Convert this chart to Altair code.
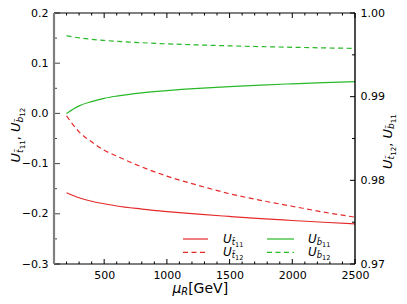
import altair as alt
import pandas as pd

# ---------------- data ----------------
mu = [200, 300, 400, 500, 600, 800, 1000, 1250, 1500, 1750, 2000, 2250, 2500]
u_t11 = [-0.158, -0.168, -0.175, -0.180, -0.1845, -0.1905, -0.1955, -0.2008, -0.2053, -0.2096, -0.2133, -0.2168, -0.220]
u_b12 = [0.1545, 0.1505, 0.1476, 0.1454, 0.1436, 0.1408, 0.1386, 0.1364, 0.1346, 0.1330, 0.1317, 0.1305, 0.1295]
u_t12 = [0.9877, 0.9858, 0.9846, 0.9836, 0.9829, 0.9816, 0.9805, 0.9794, 0.9784, 0.9776, 0.9769, 0.9762, 0.9756]
u_b11 = [0.9880, 0.9889, 0.98941, 0.9898, 0.99007, 0.99046, 0.99073, 0.9910, 0.99121, 0.99139, 0.99154, 0.99167, 0.99179]

x_major = [500, 1000, 1500, 2000, 2500]
x_minor = [v for v in range(200, 2500, 100) if v % 500 != 0]
yl_major = [-0.3, -0.2, -0.1, 0.0, 0.1, 0.2]
yl_minor = [-0.25, -0.15, -0.05, 0.05, 0.15]
yr_major = [0.97, 0.98, 0.99, 1.00]
yr_minor = [0.975, 0.985, 0.995]

# ---------------- styling ----------------
W, H = 301, 251
FONT = "DejaVu Sans"
RED = "#e52a2a"
GREEN = "#28b828"
DASH = [5, 3.5]
LW = 1.2

xscale = alt.Scale(domain=[100, 2500], nice=False, zero=False)
lscale = alt.Scale(domain=[-0.3, 0.2], nice=False, zero=False)
rscale = alt.Scale(domain=[0.97, 1.0], nice=False, zero=False)

xaxis = alt.Axis(values=x_major, format="d", labelFlush=False, labelOverlap=False,
                 labelPadding=5, title=None, orient="bottom")
laxis = alt.Axis(orient="left", values=yl_major, format=".1f", labelOverlap=False,
                 labelPadding=6, title=None)
raxis = alt.Axis(orient="right", values=yr_major, format=".2f", labelOverlap=False,
                 labelPadding=5, title=None)

df = pd.DataFrame({"mu": mu, "t11": u_t11, "b12": u_b12, "t12": u_t12, "b11": u_b11})
one = pd.DataFrame({"a": [0]})


def curve(field, scale, color, dashed, yaxis=None):
    kw = dict(color=color, strokeWidth=LW, interpolate="monotone")
    if dashed:
        kw["strokeDash"] = DASH
    return alt.Chart(df).mark_line(**kw).encode(
        x=alt.X("mu:Q", scale=xscale, axis=xaxis),
        y=alt.Y(f"{field}:Q", scale=scale, axis=yaxis),
    )


def xticks(vals, y0, y1):
    return alt.Chart(pd.DataFrame({"mu": vals})).mark_rule(color="black", strokeWidth=1).encode(
        x=alt.X("mu:Q", scale=xscale, axis=xaxis), y=alt.value(y0), y2=alt.value(y1))


def yticks(vals, scale, x0, x1, color="black"):
    return alt.Chart(pd.DataFrame({"v": vals})).mark_rule(color=color, strokeWidth=1).encode(
        y=alt.Y("v:Q", scale=scale, axis=None), x=alt.value(x0), x2=alt.value(x1))


def hrule(y, x0, x1, color="black", width=1.0, dash=None):
    kw = dict(color=color, strokeWidth=width)
    if dash:
        kw["strokeDash"] = dash
    return alt.Chart(one).mark_rule(**kw).encode(y=alt.value(y), x=alt.value(x0), x2=alt.value(x1))


def vrule(x, y0, y1, color="black", width=1.0):
    return alt.Chart(one).mark_rule(color=color, strokeWidth=width).encode(
        x=alt.value(x), y=alt.value(y0), y2=alt.value(y1))


# approximate DejaVu Sans advance widths (em)
WID = {"U": 0.732, "t": 0.392, "b": 0.635, "1": 0.636, "2": 0.636, ",": 0.318, " ": 0.318,
       "\u00a0": 0.318, "\u03bc": 0.636, "R": 0.695, "[": 0.390, "G": 0.775, "e": 0.615,
       "V": 0.684, "]": 0.390, "\u0303": 0.0}


def tw(text, size):
    return sum(WID.get(c, 0.6) for c in text) * size


def rich(pieces, x0, y0, angle=0, center=False):
    total = sum(tw(t, s) for t, s, _, _ in pieces)
    pos = -total / 2 if center else 0.0
    layers = []
    for text, size, italic, shift in pieces:
        if angle == 0:
            x, y = x0 + pos, y0 + shift
        else:  # 270: text runs upward, "down" is to the right
            x, y = x0 + shift, y0 - pos
        layers.append(
            alt.Chart(one).mark_text(
                text=text, font=FONT, fontSize=size,
                fontStyle="italic" if italic else "normal",
                align="left", baseline="alphabetic", angle=angle, color="black",
            ).encode(x=alt.value(x), y=alt.value(y))
        )
        pos += tw(text, size)
    return layers


def usym(letter, idx, S):
    return [("U", S, True, 0), (letter + "\u0303", 0.7 * S, True, 0.2 * S),
            (idx, 0.55 * S, False, 0.36 * S)]


# ---------------- layers ----------------
layers = [
    curve("t11", lscale, RED, False, yaxis=laxis),
    curve("t12", rscale, RED, True, yaxis=raxis),
    curve("b11", rscale, GREEN, False),
    curve("b12", lscale, GREEN, True),
    # ticks (inward)
    xticks(x_major, H, H - 5), xticks(x_minor, H, H - 2.5),
    xticks(x_major, 0, 5), xticks(x_minor, 0, 2.5),
    yticks(yl_major, lscale, 0, 6, "#444444"), yticks(yl_minor, lscale, 0, 3, "#444444"),
    yticks(yr_major, rscale, W, W - 5), yticks(yr_minor, rscale, W, W - 3),
    # frame
    hrule(0, 0, W), hrule(H, 0, W), vrule(W, 0, H, width=1.4),
    vrule(0, 0, H, color="#808080", width=2.2),
    # legend samples
    hrule(226, 129, 154, RED, LW), hrule(239.3, 129, 154, RED, LW, DASH),
    hrule(226, 213, 240, GREEN, LW), hrule(239.3, 213, 240, GREEN, LW, DASH),
]

LS = 12
layers += rich(usym("t", "11", LS), 169, 229.7)
layers += rich(usym("t", "12", LS), 169, 243)
layers += rich(usym("b", "11", LS), 254, 229.7)
layers += rich(usym("b", "12", LS), 254, 243)

TS = 13
left_title = usym("t", "11", TS) + [(",\u00a0", TS, False, 0)] + usym("b", "12", TS)
right_title = usym("t", "12", TS) + [(",\u00a0", TS, False, 0)] + usym("b", "11", TS)
layers += rich(left_title, -34, 122, angle=270, center=True)
layers += rich(right_title, 337.5, 128.5, angle=270, center=True)

XS = 14
x_title = [("\u03bc", XS, True, 0), ("R", 0.7 * XS, True, 0.15 * XS), ("\u00a0[GeV]", XS, False, 0)]
layers += rich(x_title, 148.5, 280, center=True)

chart = alt.layer(*layers).resolve_scale(y="independent").properties(
    width=W, height=H,
    padding={"left": 46, "top": 5, "right": 44, "bottom": 32},
    autosize=alt.AutoSizeParams(type="none"),
).configure_view(stroke=None).configure_axis(
    labelFont=FONT, labelFontSize=11, labelColor="black",
    ticks=False, domain=False, grid=False,
)

chart.save("out.html", embed_options={"renderer": "svg", "actions": False})
